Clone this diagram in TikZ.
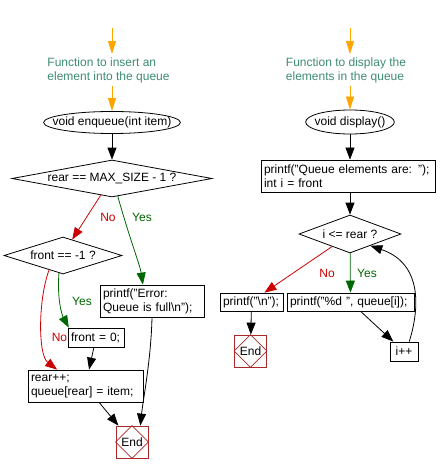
\documentclass[tikz,border=0pt]{standalone}
\usepackage{fontspec}
\setmainfont{Liberation Sans}
\usetikzlibrary{shapes.geometric,arrows.meta}
\definecolor{titleGreen}{RGB}{61,140,112}
\definecolor{startOrange}{RGB}{255,165,0}
\definecolor{noRed}{RGB}{204,0,0}
\definecolor{yesGreen}{RGB}{0,102,0}
\definecolor{endRed}{RGB}{170,40,40}
\begin{document}
\begin{tikzpicture}[x=1pt, y=-1pt, line width=0.8pt,
    every node/.style={font=\fontsize{12}{14}\selectfont},
    arrow/.style={-{Triangle[length=12pt,width=9pt]}},
    startarrow/.style={-{Triangle[length=13pt,width=8pt]}, startOrange},
    noarrow/.style={arrow, noRed},
    yesarrow/.style={arrow, yesGreen},
    title/.style={text=titleGreen, align=left, inner sep=3pt},
    func/.style={draw, ellipse, inner ysep=1pt, minimum height=22pt},
    test/.style={draw, diamond, aspect=4, inner sep=0pt},
    stmt/.style={draw, align=left, inner xsep=3pt, inner ysep=0pt},
    endbox/.style={draw=endRed, minimum size=32pt, inner sep=0pt},
    nolbl/.style={text=noRed},
    yeslbl/.style={text=yesGreen}]
  \useasboundingbox (0,0) rectangle (442,473);
  % Insert function
  \coordinate (in1) at (112,28);
  \node[title] (title1) at (108.5,70) {Function to insert an\\element into the queue};
  \node[func, inner xsep=-11pt] (enq) at (112,122.5) {void enqueue(int item)};
  \node[test, aspect=5.5, minimum width=200pt, minimum height=37pt] (rearfull) at (112,178.5) {rear == MAX\_SIZE - 1 ?};
  \node[test, minimum width=118pt, minimum height=37pt] (frontchk) at (63,255.5) {front == -1 ?};
  \node[stmt, text width=98pt, minimum height=32pt] (printerr) at (152,301) {printf("Error:\\Queue is full\textbackslash n");};
  \node[stmt, text width=50pt, minimum height=19pt] (front0) at (96,337.5) {front = 0;};
  \node[stmt, text width=109pt, minimum height=32pt] (rearbox) at (85.5,386) {rear++;\\queue[rear] = item;};
  \node[endbox] (end1) at (132,442) {End};
  % Insert labels
  \node[nolbl] (no1) at (108,217) {No};
  \node[yeslbl] (yes1) at (142,217) {Yes};
  \node[yeslbl] (yes2) at (82,301) {Yes};
  \node[nolbl] (no2) at (59.5,337.5) {No};
  % Insert flow
  \draw[startarrow] (in1) -- (title1.north -| in1);
  \draw[startarrow] (title1.south -| enq.north) -- (enq.north);
  \draw[arrow] (enq) -- (rearfull);
  \draw[noarrow] (rearfull.236) -- (frontchk.60);
  \draw[yesarrow] (rearfull.288) .. controls (130,240) and (140,265) .. (printerr.119);
  \draw[yesarrow] (frontchk.257) .. controls (57,300) and (62,315) .. (front0.160);
  \draw[noarrow] (frontchk.226) .. controls (38,300) and (38,355) .. (rearbox.150);
  \draw[arrow] (front0) -- (rearbox);
  \draw[arrow] (rearbox) -- (end1);
  \draw[arrow] (printerr.south) .. controls (151,360) and (143,400) .. (end1.63);
  % Display function
  \coordinate (in2) at (350,28);
  \node[title] (title2) at (346,70) {Function to display the\\elements in the queue};
  \node[func, inner xsep=-4pt, minimum height=24pt] (disp) at (350,122) {void display()};
  \node[stmt, text width=168pt, minimum height=32pt] (qbox) at (348,176) {printf("Queue elements are: ");\\int i = front};
  \node[test, minimum width=102pt, minimum height=38pt] (loopchk) at (350,234) {i <= rear ?};
  \node[stmt, text width=57pt, minimum height=18pt] (nlbox) at (251.5,302) {printf("\textbackslash n");};
  \node[stmt, text width=121pt, minimum height=18pt] (prbox) at (350.5,302) {printf("\%d ", queue[i]);};
  \node[stmt, align=center, text width=22pt, minimum height=19pt] (incbox) at (404,351.5) {i++};
  \node[endbox] (end2) at (250.5,351) {End};
  % Display labels
  \node[nolbl] (no3) at (327,273) {No};
  \node[yeslbl] (yes3) at (367,273) {Yes};
  % Display flow
  \draw[startarrow] (in2) -- (title2.north -| in2);
  \draw[startarrow] (title2.south -| disp.north) -- (disp.north);
  \draw[arrow] (disp) -- (disp |- qbox.north);
  \draw[arrow] (qbox.south -| loopchk.north) -- (loopchk);
  \draw[noarrow] (loopchk.215) -- (nlbox.36);
  \draw[yesarrow] (loopchk) -- (prbox);
  \draw[arrow] (nlbox) -- (end2);
  \draw[arrow] (prbox) -- (incbox);
  \draw[arrow] (incbox.62) .. controls (422,300) and (418,262) .. (loopchk.330);
  % End marks
  \foreach \e in {end1,end2}
    \draw[endRed, line width=0.6pt] (\e.north) -- (\e.east) -- (\e.south) -- (\e.west) -- cycle;
\end{tikzpicture}
\end{document}
